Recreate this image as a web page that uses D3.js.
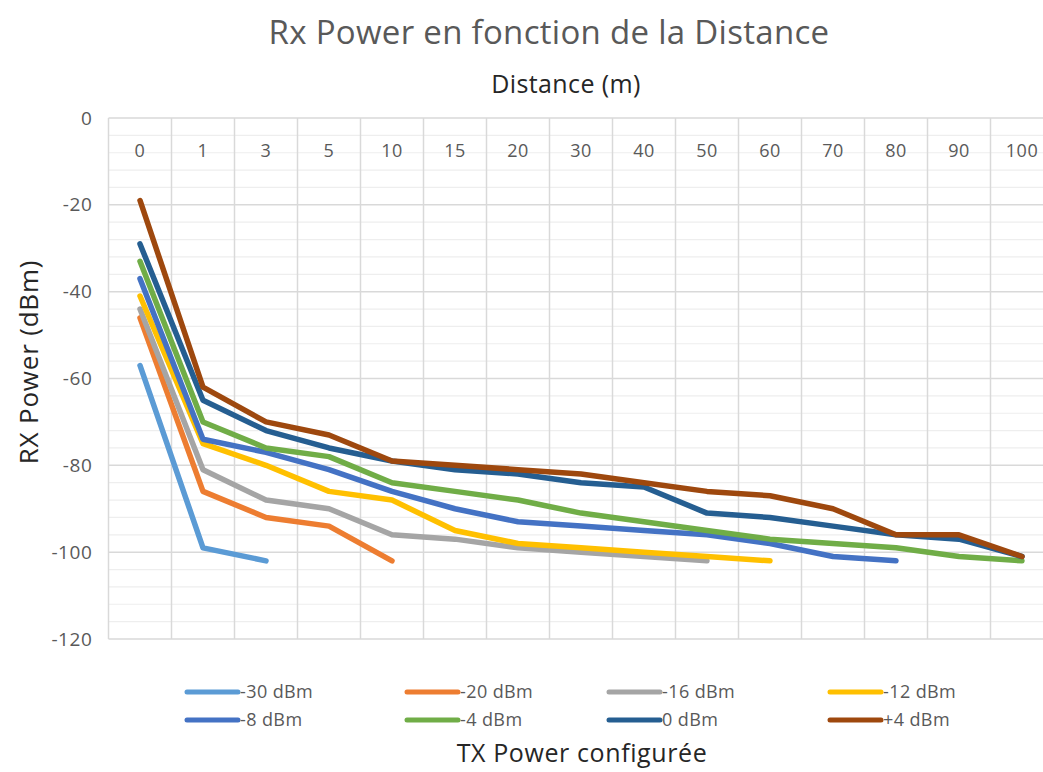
<!DOCTYPE html>
<html>
<head>
<meta charset="utf-8">
<script src="https://cdn.jsdelivr.net/npm/d3@7"></script>
<style>
  html, body { margin: 0; padding: 0; background: #fff; }
  svg { display: block; }
  text { font-family: "Open Sans", "Noto Sans", sans-serif; }
</style>
</head>
<body>
<svg id="chart" width="1043" height="772"></svg>
<script>
// ---- Data ----
const categories = ["0","1","3","5","10","15","20","30","40","50","60","70","80","90","100"];
const seriesNames = ["-30 dBm","-20 dBm","-16 dBm","-12 dBm","-8 dBm","-4 dBm","0 dBm","+4 dBm"];
const seriesColors = ["#5B9BD5","#ED7D31","#A5A5A5","#FFC000","#4472C4","#70AD47","#255E91","#9E480E"];
const s_m30 = [-57, -99, -102, null, null, null, null, null, null, null, null, null, null, null, null];
const s_m20 = [-46, -86, -92, -94, -102, null, null, null, null, null, null, null, null, null, null];
const s_m16 = [-44, -81, -88, -90, -96, -97, -99, -100, -101, -102, null, null, null, null, null];
const s_m12 = [-41, -75, -80, -86, -88, -95, -98, -99, -100, -101, -102, null, null, null, null];
const s_m8  = [-37, -74, -77, -81, -86, -90, -93, -94, -95, -96, -98, -101, -102, null, null];
const s_m4  = [-33, -70, -76, -78, -84, -86, -88, -91, -93, -95, -97, -98, -99, -101, -102];
const s_0   = [-29, -65, -72, -76, -79, -81, -82, -84, -85, -91, -92, -94, -96, -97, -101];
const s_p4  = [-19, -62, -70, -73, -79, -80, -81, -82, -84, -86, -87, -90, -96, -96, -101];
const seriesValues = [s_m30, s_m20, s_m16, s_m12, s_m8, s_m4, s_0, s_p4];
const yTicks = [0, -20, -40, -60, -80, -100, -120];
const titleText = "Rx Power en fonction de la Distance";
const xTitle = "Distance (m)";
const yTitle = "RX Power (dBm)";
const legendTitle = "TX Power configurée";

// ---- Layout ----
const svg = d3.select("#chart");
const plot = { left: 108.5, top: 118, bottom: 639, right: 1053.5 };

const x = d3.scaleBand().domain(categories).range([plot.left, plot.right]).padding(0);
const y = d3.scaleLinear().domain([-120, 0]).range([plot.bottom, plot.top]);

// minor gridlines
const minorVals = d3.range(-120, 0.001, 4).filter(v => v % 20 !== 0);
svg.append("g").selectAll("line").data(minorVals).join("line")
  .attr("x1", plot.left).attr("x2", plot.right)
  .attr("y1", d => y(d)).attr("y2", d => y(d))
  .attr("stroke", "#eeeeee").attr("stroke-width", 1.2);

// major horizontal gridlines
svg.append("g").selectAll("line").data(yTicks).join("line")
  .attr("x1", plot.left).attr("x2", plot.right)
  .attr("y1", d => y(d)).attr("y2", d => y(d))
  .attr("stroke", "#d9d9d9").attr("stroke-width", 1.5);

// vertical gridlines at category boundaries
const bounds = categories.map(c => x(c)).concat([plot.right]);
svg.append("g").selectAll("line").data(bounds).join("line")
  .attr("x1", d => d).attr("x2", d => d)
  .attr("y1", plot.top).attr("y2", plot.bottom)
  .attr("stroke", "#d9d9d9").attr("stroke-width", 1.5);

// y axis labels
const yAxis = d3.axisLeft(y).tickValues(yTicks).tickFormat(d => String(d)).tickSize(0).tickPadding(16);
const gy = svg.append("g").attr("transform", `translate(${plot.left},0)`).call(yAxis);
gy.select(".domain").remove();
gy.selectAll("text").attr("fill", "#595959").style("font-size", "19px")
  .style("font-family", "'Open Sans', sans-serif").attr("letter-spacing", "0.6px");

// x axis labels (positioned inside top of plot)
const xAxis = d3.axisTop(x).tickSize(0).tickPadding(0);
const gx = svg.append("g").attr("transform", `translate(0,157)`).call(xAxis);
gx.select(".domain").remove();
gx.selectAll("text").attr("fill", "#595959").style("font-size", "18px")
  .style("font-family", "'Open Sans', sans-serif").attr("letter-spacing", "0.5px");

// lines
const line = d3.line()
  .defined(d => d.v !== null)
  .x(d => x(d.c) + x.bandwidth() / 2)
  .y(d => y(d.v));

seriesValues.forEach((vals, i) => {
  const pts = categories.map((c, j) => ({ c, v: vals[j] }));
  svg.append("path").datum(pts)
    .attr("fill", "none")
    .attr("stroke", seriesColors[i])
    .attr("stroke-width", 5.5)
    .attr("stroke-linejoin", "round")
    .attr("stroke-linecap", "round")
    .attr("d", line);
});

// titles
svg.append("text").attr("x", 549).attr("y", 44).attr("text-anchor", "middle")
  .attr("fill", "#595959").style("font-size", "33px").attr("letter-spacing", "0.3px").text(titleText);
svg.append("text").attr("x", 566).attr("y", 93).attr("text-anchor", "middle")
  .attr("fill", "#262626").style("font-size", "25px").attr("letter-spacing", "0.4px").text(xTitle);
svg.append("text").attr("transform", "translate(38,362) rotate(-90)").attr("text-anchor", "middle")
  .attr("fill", "#262626").style("font-size", "26px").attr("letter-spacing", "0.8px").text(yTitle);
svg.append("text").attr("x", 582).attr("y", 762).attr("text-anchor", "middle")
  .attr("fill", "#262626").style("font-size", "25px").attr("letter-spacing", "0.6px").text(legendTitle);

// legend
const legX = [185, 405, 607, 828];
const legY = [692, 720];
const leg = svg.append("g");
seriesNames.forEach((name, i) => {
  const col = i % 4, row = Math.floor(i / 4);
  const g = leg.append("g").attr("transform", `translate(${legX[col]},${legY[row]})`);
  g.append("line").attr("x1", 2).attr("x2", 53).attr("y1", 0).attr("y2", 0)
    .attr("stroke", seriesColors[i]).attr("stroke-width", 5).attr("stroke-linecap", "round");
  g.append("text").attr("x", 55).attr("y", 0).attr("dy", "0.35em")
    .attr("fill", "#595959").style("font-size", "18px").attr("letter-spacing", "0.4px").text(name);
});
</script>
</body>
</html>
